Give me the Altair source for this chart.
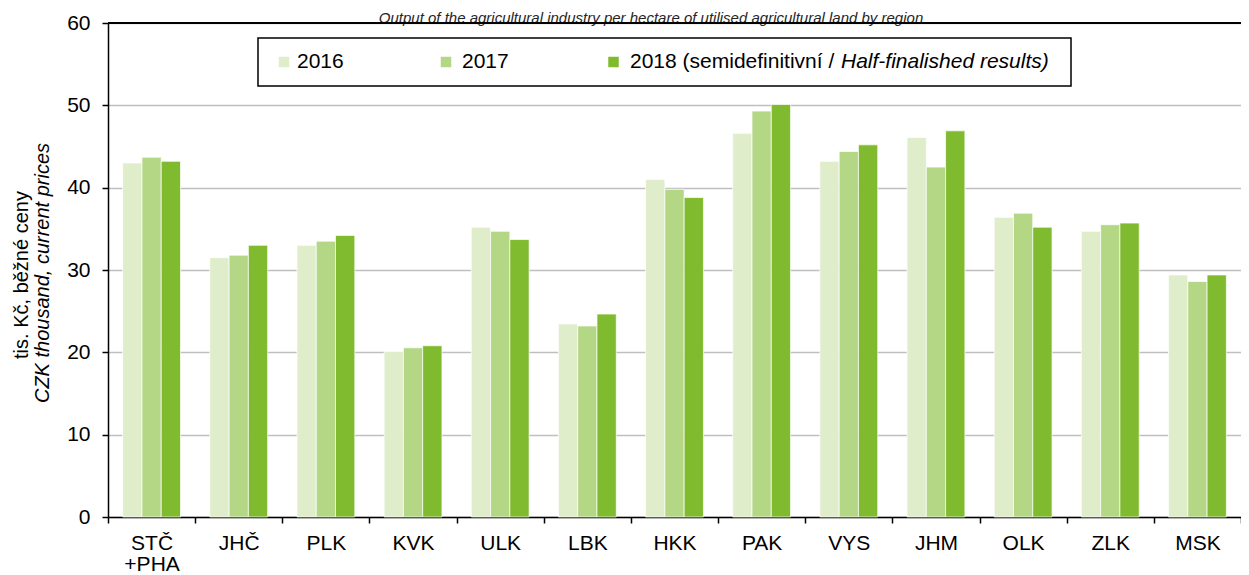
import altair as alt
import pandas as pd

# ---- data ----
regions = ["STČ|+PHA", "JHČ", "PLK", "KVK", "ULK", "LBK", "HKK",
           "PAK", "VYS", "JHM", "OLK", "ZLK", "MSK"]
years = ["2016", "2017", "2018"]
v2016 = [43.0, 31.5, 33.0, 20.1, 35.2, 23.45, 41.0, 46.6, 43.2, 46.1, 36.4, 34.7, 29.4]
v2017 = [43.7, 31.8, 33.5, 20.55, 34.7, 23.2, 39.8, 49.3, 44.4, 42.5, 36.9, 35.5, 28.6]
v2018 = [43.2, 33.0, 34.2, 20.8, 33.7, 24.65, 38.8, 50.1, 45.2, 46.9, 35.2, 35.7, 29.4]
y_ticks = [0, 10, 20, 30, 40, 50, 60]
legend_labels = ["2016", "2017", "2018 (semidefinitivní / "]
legend_italic = "Half-finalished results)"
ytitle_1 = "tis. Kč, běžné ceny"
ytitle_2 = "CZK thousand, current prices"
title_text = "Output of the agricultural industry per hectare of utilised agricultural land by region"
colors = ["#E0EDCB", "#B3D785", "#80BA2E"]

rows = []
for yr, vals in zip(years, [v2016, v2017, v2018]):
    for r, v in zip(regions, vals):
        rows.append({"region": r, "year": yr, "value": v})
df = pd.DataFrame(rows)

W, H = 1133, 494
FONT = "Liberation Sans"

bars = alt.Chart(df).mark_bar(stroke="#ffffff", strokeWidth=1, strokeOpacity=0.7).encode(
    x=alt.X("region:N", sort=regions,
            scale=alt.Scale(paddingInner=0, paddingOuter=0),
            axis=alt.Axis(title=None, labelAngle=0, labelExpr="split(datum.label, '|')",
                          labelFontSize=21, labelColor="#000000", labelLineHeight=21,
                          labelPadding=9, domainColor="#000000", domainWidth=1.5,
                          tickColor="#000000", tickWidth=1.5, tickSize=6, tickBand="extent",
                          grid=False)),
    xOffset=alt.XOffset("year:N", sort=years,
                        scale=alt.Scale(paddingInner=0, paddingOuter=0.76)),
    y=alt.Y("value:Q", scale=alt.Scale(domain=[0, 60], nice=False),
            axis=alt.Axis(title=None, values=y_ticks, grid=True, gridColor="#BFBFBF",
                          gridWidth=1.5, labelFontSize=21, labelColor="#000000",
                          labelPadding=12, domainColor="#000000", domainWidth=1.5,
                          tickColor="#000000", tickWidth=1.5, tickSize=6)),
    color=alt.Color("year:N", scale=alt.Scale(domain=years, range=colors), legend=None),
)

top_rule = alt.Chart(pd.DataFrame({"v": [y_ticks[-1]]})).mark_rule(
    color="#000000", strokeWidth=2).encode(y="v:Q")

one = pd.DataFrame({"a": [0]})
legend_box = alt.Chart(one).mark_rect(fill="white", stroke="#000000", strokeWidth=1.5).encode(
    x=alt.value(150), x2=alt.value(963), y=alt.value(15), y2=alt.value(63))

title_layer = alt.Chart(pd.DataFrame({"t": [title_text]})).mark_text(
    align="center", baseline="alphabetic", fontSize=15, fontStyle="italic",
    color="#262626").encode(text="t:N", x=alt.value(543), y=alt.value(-0.5))

layers = [bars, title_layer, top_rule, legend_box]
sq_x = [176, 338, 505.5]
tx_x = [189, 354, 522]
for lab, col, sx, tx in zip(legend_labels, colors, sq_x, tx_x):
    layers.append(alt.Chart(one).mark_square(size=110, color=col, opacity=1).encode(
        x=alt.value(sx), y=alt.value(39)))
    layers.append(alt.Chart(pd.DataFrame({"t": [lab]})).mark_text(
        align="left", baseline="middle", fontSize=21, color="#000000").encode(
        text="t:N", x=alt.value(tx), y=alt.value(39)))
layers.append(alt.Chart(pd.DataFrame({"t": [legend_italic]})).mark_text(
    align="left", baseline="middle", fontSize=21, fontStyle="italic", color="#000000").encode(
    text="t:N", x=alt.value(733), y=alt.value(39)))

layers.append(alt.Chart(pd.DataFrame({"t": [ytitle_1]})).mark_text(
    angle=270, align="center", baseline="middle", fontSize=20, color="#000000").encode(
    text="t:N", x=alt.value(-86), y=alt.value(252)))
layers.append(alt.Chart(pd.DataFrame({"t": [ytitle_2]})).mark_text(
    angle=270, align="center", baseline="middle", fontSize=20, fontStyle="italic",
    color="#000000").encode(text="t:N", x=alt.value(-65), y=alt.value(250)))

chart = alt.layer(*layers).properties(
    width=W, height=H,
    autosize=alt.AutoSizeParams(type="none"),
    padding={"left": 100, "top": 15, "right": 0, "bottom": 58},
).configure(font=FONT).configure_view(stroke=None)

chart.save("out.html", embed_options={"renderer": "svg", "actions": False})
